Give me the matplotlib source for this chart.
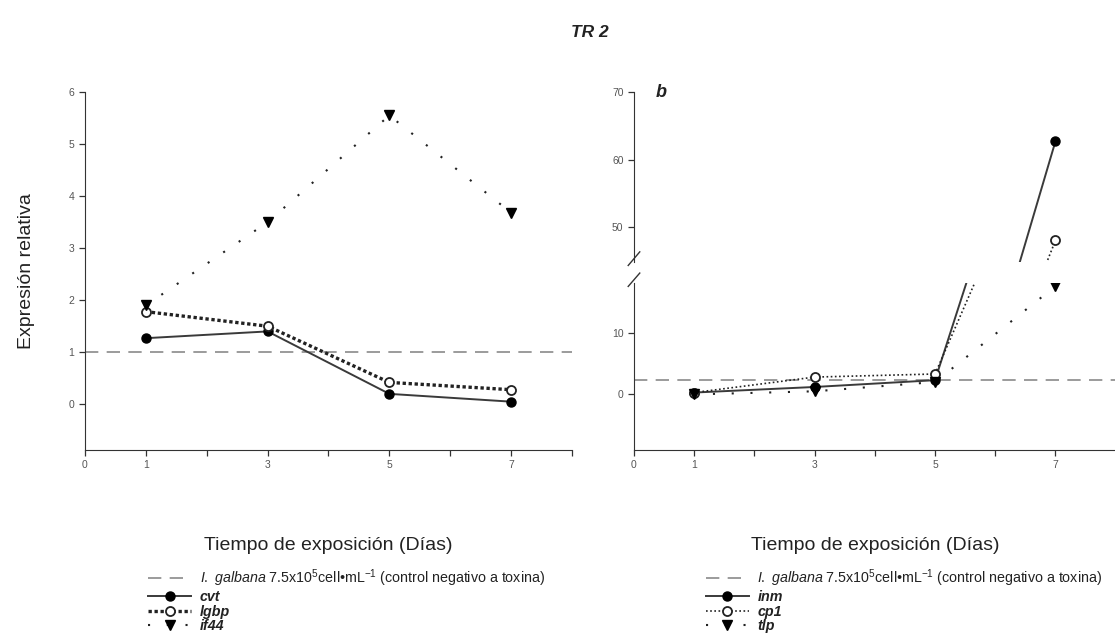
import numpy as np
import matplotlib
matplotlib.use("Agg")
import matplotlib.pyplot as plt

plt.rcParams['font.family'] = ['Liberation Sans', 'DejaVu Sans']
plt.rcParams['mathtext.fontset'] = 'custom'
plt.rcParams['mathtext.rm'] = 'Liberation Sans'
plt.rcParams['mathtext.it'] = 'Liberation Sans:italic'
plt.rcParams['mathtext.bf'] = 'Liberation Sans:bold'

# data
days = [1, 3, 5, 7]

# panel a
cvt = [1.27, 1.40, 0.20, 0.05]
lgbp = [1.78, 1.50, 0.42, 0.28]
if44 = [1.90, 3.50, 5.55, 3.68]
control_a = 1.0

# panel b
inm = [0.3, 1.2, 2.3, 62.7]
cp1 = [0.3, 2.8, 3.3, 48.0]
tlp = [0.0, 0.5, 2.0, 17.5]
control_b = 2.3

xticks = [0, 1, 2, 3, 4, 5, 6, 7, 8]
xticklabels = ['0', '1', '', '3', '', '5', '', '7', '']

control_label = (r"$\mathit{I.\ galbana}$ 7.5x10$^{5}$cell•mL$^{\mathregular{-1}}$"
                 " (control negativo a toxina)")
names_a = ['cvt', 'lgbp', 'if44']
names_b = ['inm', 'cp1', 'tlp']

TXT = '#222222'
TICK = '#555555'
DASH = '#8a8a8a'

fig = plt.figure(figsize=(11.15, 6.33), dpi=100)


def style_axis(ax, show_bottom=True):
    ax.spines['top'].set_visible(False)
    ax.spines['right'].set_visible(False)
    ax.spines['left'].set_color('#333333')
    ax.spines['bottom'].set_color('#333333')
    ax.tick_params(direction='out', length=4, width=0.9, color='#333333',
                   labelsize=7.5, labelcolor=TICK)
    if not show_bottom:
        ax.spines['bottom'].set_visible(False)
        ax.tick_params(axis='x', bottom=False, labelbottom=False)


def series(ax, y1, y2, y3, names, dense):
    l1, = ax.plot(days, y1, color='#3a3a3a', lw=1.4, marker='o', ms=6.5,
                  mfc='black', mec='black', label=names[0])
    if dense:
        l2, = ax.plot(days, y2, color='#222222', lw=2.4, ls=(0, (1, 0.8)),
                      marker='o', ms=6.5, mfc='white', mec='#222222', mew=1.3,
                      label=names[1])
    else:
        l2, = ax.plot(days, y2, color='#222222', lw=1.2, ls=(0, (1, 1.5)),
                      marker='o', ms=6.5, mfc='white', mec='#222222', mew=1.3,
                      label=names[1])
    l3, = ax.plot(days, y3, color='#222222', lw=1.5, ls=(0, (1, 8)),
                  marker='v', ms=6.5, mfc='black', mec='black', label=names[2])
    return l1, l2, l3


def make_legend(ax, handles, x0):
    labels = [control_label] + [h.get_label() for h in handles[1:]]
    leg = fig.legend(handles, labels, loc='upper left',
                     bbox_to_anchor=(x0, 0.112), frameon=False, fontsize=10.3,
                     handlelength=3.0, labelspacing=0.04, borderaxespad=0,
                     handletextpad=0.6, numpoints=1)
    for i, t in enumerate(leg.get_texts()):
        t.set_color(TXT)
        if i > 0:
            t.set_fontweight('bold')
            t.set_fontstyle('italic')


# ---- panel a ----
axa = fig.add_axes([0.0762, 0.289, 0.4368, 0.5656])
style_axis(axa)
ctrl_a = axa.axhline(control_a, color=DASH, lw=1.2, ls=(0, (8, 5)))
la = series(axa, cvt, lgbp, if44, names_a, dense=True)
axa.set_xlim(0, 8)
axa.set_ylim(-0.88, 6)
axa.set_yticks([0, 1, 2, 3, 4, 5, 6])
axa.set_xticks(xticks)
axa.set_xticklabels(xticklabels)
axa.set_ylabel('Expresión relativa', fontsize=14, color=TXT, labelpad=24)
axa.set_xlabel('Tiempo de exposición (Días)', fontsize=14, color=TXT,
               labelpad=48)
make_legend(axa, [ctrl_a] + list(la), 0.128)

# ---- panel b (broken axis) ----
axb = fig.add_axes([0.5686, 0.289, 0.432, 0.2638])
axt = fig.add_axes([0.5686, 0.586, 0.432, 0.2686], sharex=axb)
style_axis(axb)
style_axis(axt, show_bottom=False)
ctrl_b = axb.axhline(control_b, color=DASH, lw=1.2, ls=(0, (8, 5)))
lb = series(axb, inm, cp1, tlp, names_b, dense=False)
series(axt, inm, cp1, tlp, names_b, dense=False)
axb.set_xlim(0, 8)
axb.set_ylim(-9, 18)
axb.set_yticks([0, 10])
axt.set_ylim(44.8, 70)
axt.set_yticks([50, 60, 70])
axb.set_xticks(xticks)
axb.set_xticklabels(xticklabels)
axb.set_xlabel('Tiempo de exposición (Días)', fontsize=14, color=TXT,
               labelpad=48)
axt.text(0.045, 1.0, 'b', transform=axt.transAxes, fontsize=13,
         fontweight='bold', fontstyle='italic', color=TXT, va='center')

# break marks on the y axis
kw = dict(color='#333333', lw=1.0, clip_on=False)
axb.plot((-0.012, 0.012), (1.0 - 0.02, 1.0 + 0.06), transform=axb.transAxes, **kw)
axt.plot((-0.012, 0.012), (-0.02, 0.06), transform=axt.transAxes, **kw)

make_legend(axb, [ctrl_b] + list(lb), 0.628)

fig.text(0.529, 0.948, 'TR 2', fontsize=12.5, fontweight='bold',
         fontstyle='italic', color=TXT, ha='center', va='center')

fig.savefig('out.png', dpi=100)
